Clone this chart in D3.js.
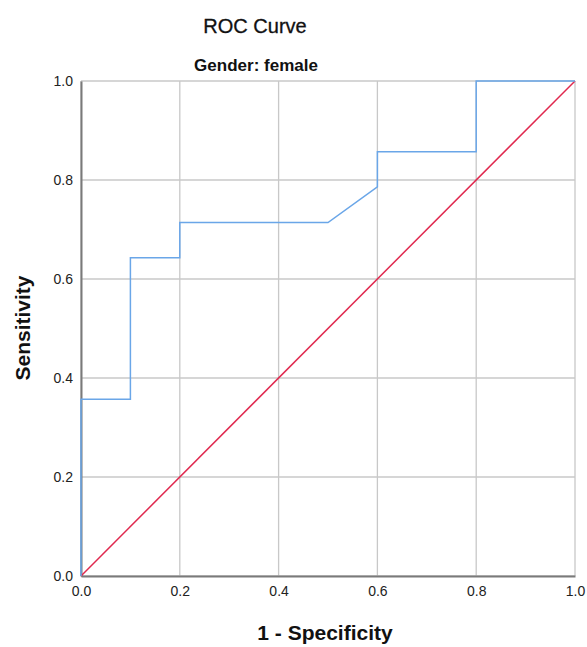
<!DOCTYPE html>
<html>
<head>
<meta charset="utf-8">
<script src="https://cdn.jsdelivr.net/npm/d3@7"></script>
<style>
  body { margin: 0; background: #fff; }
  text { font-family: "Liberation Sans", Arial, sans-serif; }
</style>
</head>
<body>
<svg width="587" height="647"></svg>
<script>
// ROC curve points (1 - specificity, sensitivity)
var rocFpr  = [0, 0, 0.1, 0.1, 0.2, 0.2, 0.5, 0.6, 0.6, 0.8, 0.8, 1.0];
var rocTpr  = [0, 0.357, 0.357, 0.643, 0.643, 0.714, 0.714, 0.786, 0.857, 0.857, 1.0, 1.0];
// reference line
var refX = [0, 1];
var refY = [0, 1];
var tickVals = [0, 0.2, 0.4, 0.6, 0.8, 1.0];

var svg = d3.select("svg"),
    margin = { top: 81, right: 12, bottom: 71, left: 81 },
    width = +svg.attr("width") - margin.left - margin.right,
    height = +svg.attr("height") - margin.top - margin.bottom,
    g = svg.append("g").attr("transform", "translate(" + margin.left + "," + margin.top + ")");

var x = d3.scaleLinear().domain([0, 1]).range([0, width]);
var y = d3.scaleLinear().domain([0, 1]).range([height, 0]);

// grid
g.append("g").selectAll("line").data(tickVals).enter().append("line")
    .attr("x1", function (d) { return x(d); }).attr("x2", function (d) { return x(d); })
    .attr("y1", 0).attr("y2", height)
    .attr("stroke", "#c8c8c8").attr("stroke-width", 1.3);
g.append("g").selectAll("line").data(tickVals).enter().append("line")
    .attr("y1", function (d) { return y(d); }).attr("y2", function (d) { return y(d); })
    .attr("x1", 0).attr("x2", width)
    .attr("stroke", "#c8c8c8").attr("stroke-width", 1.3);

// axes
var xAxis = g.append("g")
    .attr("transform", "translate(0," + height + ")")
    .call(d3.axisBottom(x).tickValues(tickVals).tickFormat(d3.format(".1f")).tickSize(0).tickPadding(10));
var yAxis = g.append("g")
    .call(d3.axisLeft(y).tickValues(tickVals).tickFormat(d3.format(".1f")).tickSize(0).tickPadding(8));
[xAxis, yAxis].forEach(function (a) {
    a.attr("font-size", null).attr("font-family", null);
    a.select(".domain").attr("stroke", "#7a7a7a").attr("stroke-width", 2);
    a.selectAll("text").style("font-size", "14px").attr("fill", "#222")
        .style("font-family", "'Liberation Sans', Arial, sans-serif");
});

var line = d3.line()
    .x(function (d) { return x(d[0]); })
    .y(function (d) { return y(d[1]); });

g.append("path")
    .datum(refX.map(function (v, i) { return [v, refY[i]]; }))
    .attr("d", line)
    .attr("fill", "none").attr("stroke", "#e0294f").attr("stroke-width", 1.5);

g.append("path")
    .datum(rocFpr.map(function (v, i) { return [v, rocTpr[i]]; }))
    .attr("d", line)
    .attr("fill", "none").attr("stroke", "#6aa6e8").attr("stroke-width", 1.5);

// titles
svg.append("text").attr("x", 255).attr("y", 33).attr("text-anchor", "middle")
    .attr("font-size", 20).attr("fill", "#111").style("stroke", "#111").style("stroke-width", 0.3).text("ROC Curve");
svg.append("text").attr("x", 256).attr("y", 71).attr("text-anchor", "middle")
    .attr("font-size", 17).attr("font-weight", "bold").attr("fill", "#111").text("Gender: female");
svg.append("text").attr("x", 325).attr("y", 640).attr("text-anchor", "middle")
    .attr("font-size", 21).attr("font-weight", "bold").attr("fill", "#111").text("1 - Specificity");
svg.append("text").attr("transform", "translate(30,328)rotate(-90)").attr("text-anchor", "middle")
    .attr("font-size", 21).attr("font-weight", "bold").attr("fill", "#111").text("Sensitivity");
</script>
</body>
</html>
